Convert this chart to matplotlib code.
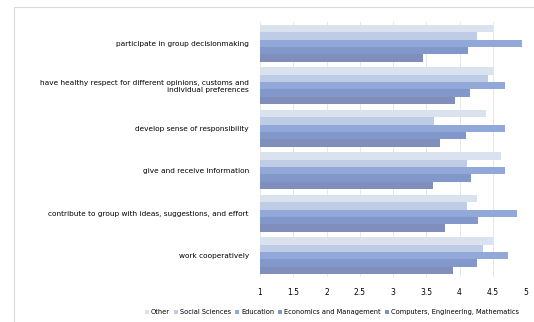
import matplotlib
matplotlib.use("Agg")
import matplotlib.pyplot as plt
import numpy as np
from matplotlib.patches import Rectangle

# categories listed bottom to top (Excel order)
categories = [
    "work cooperatively",
    "contribute to group with ideas, suggestions, and effort",
    "give and receive information",
    "develop sense of responsibility",
    "have healthy respect for different opinions, customs and\nindividual preferences",
    "participate in group decisionmaking",
]
series_names = ["Other", "Social Sciences", "Education",
                "Economics and Management", "Computers, Engineering, Mathematics"]

other = [4.50, 4.27, 4.62, 4.40, 4.50, 4.50]
social = [4.35, 4.12, 4.12, 3.62, 4.43, 4.26]
education = [4.73, 4.86, 4.68, 4.68, 4.68, 4.94]
economics = [4.26, 4.28, 4.18, 4.10, 4.16, 4.13]
computers = [3.90, 3.78, 3.60, 3.70, 3.93, 3.45]

values = [other, social, education, economics, computers]
colors = ["#dbe2ef", "#bfcce5", "#91a8d8", "#8398ca", "#7f8ebb"]

fig = plt.figure(figsize=(5.34, 3.22), dpi=100)
fig.patches.append(Rectangle((14 / 534, -0.1), 1.0, 1 - 7 / 322 + 0.1,
                             transform=fig.transFigure, fill=False,
                             edgecolor="#d9d9d9", linewidth=0.8))
ax = fig.add_axes([260 / 534, 1 - 277 / 322, 266 / 534, 255 / 322])

y = np.arange(len(categories))
h = 0.175
for i, (name, vals, c) in enumerate(zip(series_names, values, colors)):
    offset = 0.35 - i * h
    ax.barh(y + offset, np.array(vals) - 1, left=1, height=h, color=c,
            edgecolor="none", label=name, zorder=2)

ax.set_xlim(1, 5)
ax.set_ylim(-0.5, 5.5)
ax.set_xticks(np.arange(1, 5.01, 0.5))
ax.set_xticklabels(["1", "1.5", "2", "2.5", "3", "3.5", "4", "4.5", "5"], fontsize=5.5)
ax.set_yticks(y)
ax.set_yticklabels(categories, fontsize=5.3, linespacing=1.1)
ax.tick_params(length=0, pad=8)
ax.tick_params(axis="x", pad=8)
ax.grid(axis="x", color="#e3e3e3", linewidth=0.6, zorder=0)
for s in ax.spines.values():
    s.set_visible(False)

handles, labels = ax.get_legend_handles_labels()
fig.legend(handles, labels, loc="center", bbox_to_anchor=(332 / 534, 1 - 312 / 322),
           ncol=5, fontsize=4.8, frameon=False, handlelength=0.6, handleheight=0.6,
           handletextpad=0.3, columnspacing=0.6, borderpad=0.1)

fig.savefig("out.png", dpi=100)
plt.close(fig)
